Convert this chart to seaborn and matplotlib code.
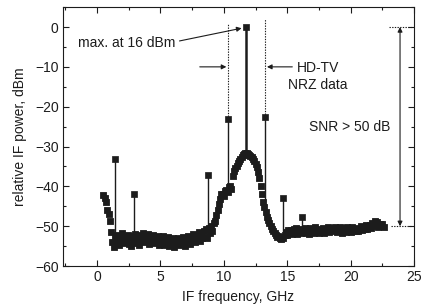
import numpy as np
import pandas as pd
import matplotlib
matplotlib.use("Agg")
import matplotlib.pyplot as plt
from matplotlib.ticker import MultipleLocator
import seaborn as sns

# measured IF spectrum (noise floor + HD-TV band), 0.1 GHz grid from 0.5 GHz
freq = np.round(np.arange(0.5, 22.65, 0.1), 2)
power = [
    -42.2, -43.0, -44.0, -45.8, -47.0, -48.8, -51.5, -54.0, -55.3, -52.5,
    -53.8, -52.2, -54.6, -52.8, -53.5, -51.8, -54.2, -52.6, -53.9, -52.1,
    -54.4, -53.0, -55.0, -52.4, -54.1, -51.9, -53.6, -52.5, -54.7, -52.2,
    -53.4, -51.8, -54.0, -52.7, -53.2, -52.0, -54.5, -52.9, -53.6, -52.3,
    -54.2, -52.6, -53.9, -52.4, -54.8, -53.0, -53.5, -52.5, -54.6, -53.1,
    -54.0, -52.8, -55.0, -53.3, -54.3, -52.9, -55.2, -53.4, -54.5, -53.0,
    -54.8, -53.2, -54.1, -52.7, -54.9, -53.1, -53.8, -52.4, -54.4, -52.8,
    -53.6, -51.9, -54.0, -52.3, -53.2, -51.5, -53.7, -51.8, -52.9, -51.2,
    -52.6, -50.8, -52.9, -50.5, -51.6, -50.0, -51.2, -49.2, -48.6, -47.2,
    -45.8, -44.5, -43.2, -42.0, -41.8, -42.5, -41.2, -40.8, -41.5, -40.2,
    -39.8, -40.6, -37.5, -36.2, -35.5, -34.8, -34.0, -33.5, -33.0, -32.6,
    -32.2, -31.8, -31.6, -31.7, -31.9, -32.0, -32.3, -32.6, -33.0, -33.6,
    -34.3, -35.2, -36.5, -38.0, -40.0, -42.0, -43.8, -45.2, -46.5, -47.6,
    -48.5, -49.3, -50.0, -50.6, -51.2, -51.8, -52.2, -52.6, -52.4, -52.9,
    -53.1, -52.6, -53.0, -52.2, -51.5, -52.3, -50.9, -51.8, -51.0, -52.0,
    -50.8, -51.7, -50.5, -51.9, -51.2, -50.6, -51.8, -50.9, -51.5, -50.4,
    -51.6, -50.8, -51.9, -50.5, -51.3, -50.7, -51.7, -50.3, -51.4, -50.9,
    -51.8, -50.6, -51.2, -50.4, -51.6, -50.8, -51.0, -50.2, -51.5, -50.6,
    -51.3, -50.5, -50.9, -50.1, -51.4, -50.7, -51.1, -50.3, -51.6, -50.5,
    -50.9, -51.5, -50.3, -51.2, -50.6, -51.4, -50.2, -51.0, -50.7, -51.3,
    -50.4, -51.1, -50.6, -50.0, -51.0, -50.3, -50.8, -49.8, -50.6, -50.1,
    -49.6, -50.4, -49.2, -50.0, -48.8, -49.7, -49.0, -50.2, -49.4, -49.9,
    -49.5, -50.3,
]

# discrete spectral lines (carrier + spurs)
spike_freq = [1.42, 2.92, 8.73, 10.3, 11.75, 13.25, 14.7, 16.2]
spike_top = [-33.2, -42.0, -37.2, -23.0, 0.0, -22.5, -42.9, -47.7]
spike_base = [-52.0, -53.0, -51.0, -41.0, -32.0, -44.0, -52.5, -50.5]

df = pd.DataFrame({"freq": freq, "power": power})
spikes = pd.DataFrame({"freq": spike_freq, "top": spike_top, "base": spike_base})

sns.set_style("ticks")
plt.rcParams["font.family"] = ["Liberation Sans", "DejaVu Sans"]
plt.rcParams["font.size"] = 10

ink = "#1c1c1c"
fs = 10
fig = plt.figure(figsize=(4.22, 3.08), dpi=100)
ax = fig.add_axes([0.149, 0.136, 0.832, 0.841])

# stems of the spectral lines
lw = [1.0, 1.0, 1.0, 1.0, 1.8, 1.0, 1.0, 1.0]
ax.vlines(spikes["freq"], spikes["base"], spikes["top"], colors=ink, linewidth=lw, zorder=2)

sns.scatterplot(data=df, x="freq", y="power", marker="s", s=25, color=ink,
                edgecolor=ink, linewidth=0.6, ax=ax, zorder=3)
sns.scatterplot(data=spikes, x="freq", y="top", marker="s", s=18, color=ink,
                edgecolor=ink, linewidth=0.5, ax=ax, zorder=4)

# HD-TV channel band edges
ax.vlines([10.3, 13.25], [-23.0, -22.5], [1.0, 2.0], colors=ink, linestyles=(0, (1.2, 1.2)),
          linewidth=0.8)
arrow = dict(arrowstyle="-|>", color=ink, lw=0.8, mutation_scale=7, shrinkA=0, shrinkB=0)
ax.annotate("", xy=(10.2, -10), xytext=(8.1, -10), arrowprops=arrow)
ax.annotate("", xy=(13.4, -10), xytext=(15.4, -10), arrowprops=arrow)
ax.text(17.4, -12.5, "HD-TV\nNRZ data", ha="center", va="center", fontsize=fs,
        linespacing=1.25, color=ink)

ax.text(-1.5, -4, "max. at 16 dBm", ha="left", va="center", fontsize=fs, color=ink)
ax.annotate("", xy=(11.4, -0.3), xytext=(6.5, -3.5), arrowprops=arrow)

# SNR indicator
ax.hlines([0, -50], [23.0, 23.2], [24.9, 24.8], colors=ink, linestyles=(0, (1.2, 1.2)),
          linewidth=0.8)
ax.annotate("", xy=(23.9, 0), xytext=(23.9, -50),
            arrowprops=dict(arrowstyle="<|-|>", color=ink, lw=0.8, mutation_scale=7,
                            shrinkA=0, shrinkB=0))
ax.text(19.9, -25, "SNR > 50 dB", ha="center", va="center", fontsize=fs, color=ink)

ax.set_xlim(-2.7, 25)
ax.set_ylim(-60, 5)
ax.xaxis.set_major_locator(MultipleLocator(5))
ax.xaxis.set_minor_locator(MultipleLocator(2.5))
ax.yaxis.set_major_locator(MultipleLocator(10))
ax.yaxis.set_minor_locator(MultipleLocator(5))
ax.tick_params(which="both", direction="in", top=True, right=True, color=ink,
               labelsize=fs, labelcolor=ink, width=0.8)
ax.tick_params(which="major", length=4, pad=3)
ax.tick_params(which="minor", length=2.5)
for sp in ax.spines.values():
    sp.set_visible(True)
    sp.set_color(ink)
    sp.set_linewidth(0.8)

ax.set_xlabel("IF frequency, GHz", fontsize=fs, color=ink, labelpad=4)
ax.set_ylabel("relative IF power, dBm", fontsize=fs, color=ink, labelpad=6)

fig.savefig("out.png", dpi=100)
